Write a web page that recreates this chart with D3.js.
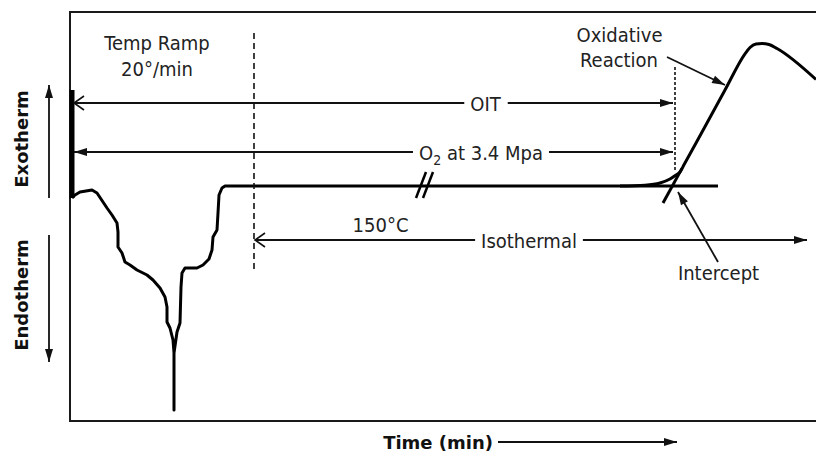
<!DOCTYPE html>
<html>
<head>
<meta charset="utf-8">
<script src="https://cdn.jsdelivr.net/npm/d3@7"></script>
<style>
  html, body { margin: 0; padding: 0; background: #fff; }
  svg { display: block; }
  .lbl { font-family: "DejaVu Sans Condensed", "DejaVu Sans", sans-serif; font-size: 20px; fill: #222; }
  .bold { font-family: "DejaVu Sans", sans-serif; font-weight: bold; font-size: 18px; fill: #111; }
</style>
</head>
<body>
<svg id="chart" width="816" height="454"></svg>
<script>
// ---- Data (arbitrary time units vs. heat-flow units) ----
// Initial thermogram: equilibration spike, melting endotherm, isothermal baseline
const meltTime = [2, 5, 10, 22, 27, 33, 37, 42, 47, 48, 48, 52, 55, 60, 67, 77, 83, 90, 95, 97, 97, 100, 103, 104, 104, 104, 107, 110, 111, 112, 115, 127, 133, 139, 142, 143, 147, 148, 149, 152, 155, 648];
const meltHeat = [-12, -9, -6, -4, -7, -16, -22, -29, -37, -46, -61, -67, -76, -79, -84, -89, -94, -102, -111, -121, -136, -142, -154, -167, -224, -167, -146, -137, -101, -87, -82, -82, -79, -73, -64, -51, -44, -27, -9, -2, 0, 0];
// Oxidative exotherm
const oxTime = [550, 575, 590, 600, 606, 610, 614, 630, 655, 675, 680, 686, 692, 699, 707, 746];
const oxHeat = [0, 0.8, 3, 7, 11, 14, 21.2, 50.3, 96, 132.2, 138.5, 142, 142.5, 141.5, 137.5, 106.5];
// Onset tangent line
const tangentTime = [593, 612];
const tangentHeat = [-17, 17.6];
// Start bar (O2 switch-on)
const barTime = [2, 2];
const barHeat = [96, -12];
// Axis break marks "//"
const breakMarks = [
  {t: [346, 356], v: [-12, 14]},
  {t: [353, 363], v: [-12, 14]}
];
// Dashed markers
const dashed = [
  {t: 184, v: [153, -84], dash: "6,4"},
  {t: 605, v: [119, 16], dash: "3,2"}
];
// Dimension arrows
const spans = [
  {label: "OIT", t: [4, 603], v: 83, center: 415.5, start: "open", end: "filled"},
  {label: "O2", t: [4, 603], v: 34, center: 411, start: "filled", end: "filled"},
  {label: "Isothermal", t: [185, 737], v: -54, center: 459, start: "open", end: "filled"}
];
// Pointer arrows
const pointers = [
  {t: [597, 655], v: [129, 101]},
  {t: [648, 608], v: [-76, -6]}
];
// Free text labels
const labels = [
  {text: "Temp Ramp", t: 87, v: 136},
  {text: "20°/min", t: 87, v: 110},
  {text: "150°C", t: 310.5, v: -45.7},
  {text: "Oxidative", t: 549.5, v: 144.3},
  {text: "Reaction", t: 549, v: 119.3},
  {text: "Intercept", t: 648.5, v: -94}
];
const timeTitle = {text: "Time (min)", tEnd: 423, v: -263, arrowEnd: 607};
const sideTitles = [
  {text: "Exotherm", t: -42, v: 47, arrow: [-12, 101]},
  {text: "Endotherm", t: -42, v: -109, arrow: [-49, -176]}
];
const arrowT = -21;

// ---- Scales ----
const x = d3.scaleLinear().domain([0, 746]).range([70, 816]);
const y = d3.scaleLinear().domain([-235, 174]).range([421, 12]);

const svg = d3.select("#chart");

// Markers (all pointing along +x, tip at origin)
const defs = svg.append("defs");
function marker(id, orient, open) {
  const m = defs.append("marker")
    .attr("id", id).attr("viewBox", "-16 -9 18 18")
    .attr("markerWidth", 18).attr("markerHeight", 18)
    .attr("refX", 0).attr("refY", 0)
    .attr("markerUnits", "userSpaceOnUse").attr("orient", orient);
  if (open) {
    m.append("path").attr("d", "M-10,-7L0,0L-10,7").attr("fill", "none")
      .attr("stroke", "#111").attr("stroke-width", 1.6);
  } else {
    m.append("path").attr("d", "M-13,-4L0,0L-13,4Z").attr("fill", "#111");
  }
}
marker("fEnd", "auto", false);
marker("fStart", "auto-start-reverse", false);
marker("oStart", "auto-start-reverse", true);

// Frame (open on the right)
svg.append("path")
  .attr("d", `M${x(746) + 5},${y(174)}H${x(0)}V${y(-235)}H${x(746) + 5}`)
  .attr("fill", "none").attr("stroke", "#1a1a1a").attr("stroke-width", 2);

const line = d3.line().x(d => x(d[0])).y(d => y(d[1]));

// Start bar
svg.append("path").datum(d3.zip(barTime, barHeat)).attr("d", line)
  .attr("stroke", "#000").attr("stroke-width", 5).attr("fill", "none");

// Thermogram
svg.append("path").datum(d3.zip(meltTime, meltHeat)).attr("d", line)
  .attr("stroke", "#000").attr("stroke-width", 3).attr("fill", "none")
  .attr("stroke-linejoin", "round");

svg.append("path").datum(d3.zip(oxTime, oxHeat))
  .attr("d", line.curve(d3.curveMonotoneX))
  .attr("stroke", "#000").attr("stroke-width", 3).attr("fill", "none");
line.curve(d3.curveLinear);

svg.append("path").datum(d3.zip(tangentTime, tangentHeat)).attr("d", line)
  .attr("stroke", "#000").attr("stroke-width", 3).attr("fill", "none");

// Break marks
breakMarks.forEach(b => {
  svg.append("path").datum(d3.zip(b.t, b.v)).attr("d", line)
    .attr("stroke", "#000").attr("stroke-width", 2.5).attr("fill", "none");
});

// Dashed lines
dashed.forEach(d => {
  svg.append("line").attr("x1", x(d.t)).attr("x2", x(d.t))
    .attr("y1", y(d.v[0])).attr("y2", y(d.v[1]))
    .attr("stroke", "#111").attr("stroke-width", 1.6).attr("stroke-dasharray", d.dash);
});

// Dimension arrows with text gaps
spans.forEach(s => {
  const g = svg.append("g");
  const txt = g.append("text").attr("class", "lbl").attr("text-anchor", "middle")
    .attr("x", x(s.center)).attr("y", y(s.v) + 7.5);
  if (s.label === "O2") {
    txt.append("tspan").text("O");
    txt.append("tspan").text("2").attr("font-size", 14).attr("dy", 5);
    txt.append("tspan").text(" at 3.4 Mpa").attr("dy", -5);
  } else {
    txt.text(s.label);
  }
  const bb = txt.node().getBBox();
  const pad = 6;
  const markerFor = k => k === "open" ? "url(#oStart)" : "url(#fStart)";
  g.append("line").attr("x1", x(s.t[0])).attr("x2", bb.x - pad)
    .attr("y1", y(s.v)).attr("y2", y(s.v))
    .attr("stroke", "#111").attr("stroke-width", 1.8)
    .attr("marker-start", markerFor(s.start));
  g.append("line").attr("x1", bb.x + bb.width + pad).attr("x2", x(s.t[1]))
    .attr("y1", y(s.v)).attr("y2", y(s.v))
    .attr("stroke", "#111").attr("stroke-width", 1.8)
    .attr("marker-end", "url(#fEnd)");
});

// Pointer arrows
pointers.forEach(p => {
  svg.append("line").attr("x1", x(p.t[0])).attr("y1", y(p.v[0]))
    .attr("x2", x(p.t[1])).attr("y2", y(p.v[1]))
    .attr("stroke", "#111").attr("stroke-width", 1.8).attr("marker-end", "url(#fEnd)");
});

// Labels
labels.forEach(l => {
  svg.append("text").attr("class", "lbl").attr("text-anchor", "middle")
    .attr("x", x(l.t)).attr("y", y(l.v)).text(l.text);
});

// Time axis title + arrow
svg.append("text").attr("class", "bold").attr("text-anchor", "end")
  .attr("x", x(timeTitle.tEnd)).attr("y", y(timeTitle.v)).text(timeTitle.text);
svg.append("line").attr("x1", x(timeTitle.tEnd) + 5).attr("x2", x(timeTitle.arrowEnd))
  .attr("y1", y(timeTitle.v) - 7).attr("y2", y(timeTitle.v) - 7)
  .attr("stroke", "#111").attr("stroke-width", 1.8).attr("marker-end", "url(#fEnd)");

// Side titles + arrows
sideTitles.forEach(s => {
  svg.append("text").attr("class", "bold").attr("text-anchor", "middle")
    .attr("transform", `translate(${x(s.t)},${y(s.v)}) rotate(-90)`).text(s.text);
  svg.append("line").attr("x1", x(arrowT)).attr("x2", x(arrowT))
    .attr("y1", y(s.arrow[0])).attr("y2", y(s.arrow[1]))
    .attr("stroke", "#111").attr("stroke-width", 1.8).attr("marker-end", "url(#fEnd)");
});
</script>
</body>
</html>
